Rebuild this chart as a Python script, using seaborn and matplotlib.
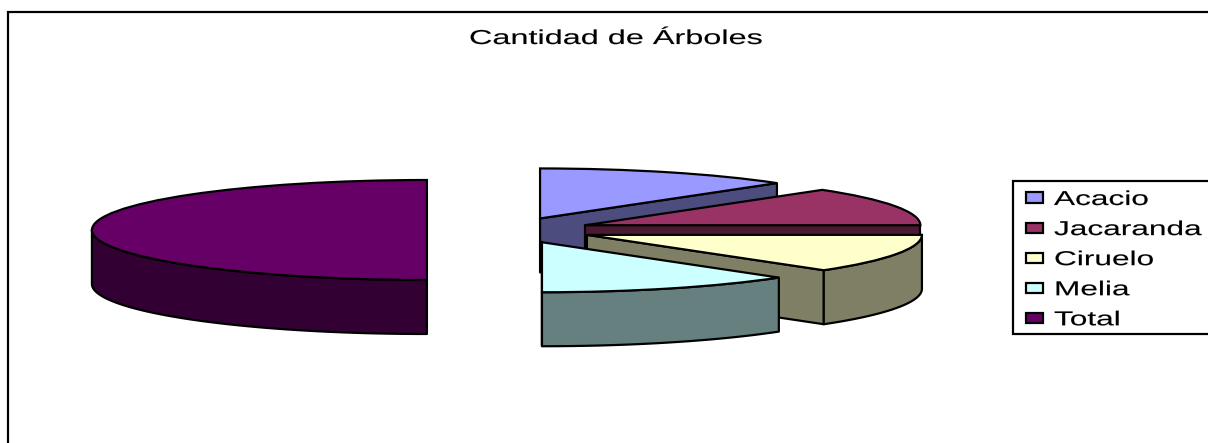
import numpy as np
import seaborn as sns
import matplotlib
matplotlib.use('Agg')
import matplotlib.pyplot as plt
import matplotlib.patheffects as pe
from matplotlib.patches import Polygon, Rectangle
from matplotlib.transforms import Affine2D

sns.set_theme(style='white')
plt.rcParams['font.family'] = ['Liberation Sans', 'DejaVu Sans']

title = 'Cantidad de Árboles'
species = ['Acacio', 'Jacaranda', 'Ciruelo', 'Melia', 'Total']
counts = [10, 10, 10, 10, 40]
explode = [0.25, 0.25, 0.255, 0.265, 0.242]
top_colors = ['#9999FF', '#993366', '#FFFFCC', '#CCFFFF', '#660066']
side_colors = ['#4C4C7F', '#4C1933', '#7F7F66', '#667F7F', '#330033']

W, H = 1208, 443
DPI = 100
LW = 2.2 * 72 / DPI
# the picture is a flattened pie: pixels per pie radius, and slab thickness
RX, RY = 335, 50
CX, CY = 508, 230
DEPTH = 54 / RY


class Stretch(pe.AbstractPathEffect):
    """Widen text about its own start, the reference text is wider than any font."""
    def __init__(self, sx):
        super().__init__()
        self.sx = sx

    def draw_path(self, renderer, gc, tpath, affine, rgbFace=None):
        gc.set_linewidth(0.1)
        renderer.draw_path(gc, tpath, Affine2D().scale(self.sx, 1) + affine, rgbFace)


def px_rect(x0, y0, x1, y1):
    return Rectangle((x0 / W, 1 - y1 / H), (x1 - x0) / W, (y1 - y0) / H,
                     transform=fig.transFigure, facecolor='white', edgecolor='black',
                     linewidth=LW, clip_on=True, zorder=-1)


def draw_sides(ax, wedge, color, zorder):
    (x, y) = wedge.center
    # pie hands out negative angles when it runs clockwise
    t1, t2 = wedge.theta1, wedge.theta2
    if t1 < 0:
        t1, t2 = t1 + 360, t2 + 360
    faces = []
    # flat cut faces that look towards the viewer
    for t, sign in ((t1, 1), (t2, -1)):
        c = np.cos(np.radians(t))
        if sign * c > 1e-9:
            ex, ey = x + c, y + np.sin(np.radians(t))
            faces.append([(x, y), (ex, ey), (ex, ey - DEPTH), (x, y - DEPTH)])
    # only the lower half of the rim can be seen
    lo, hi = max(t1, 180), min(t2, 360)
    if hi > lo:
        a = np.radians(np.linspace(lo, hi, 80))
        rim_x, rim_y = x + np.cos(a), y + np.sin(a)
        faces.append(list(zip(rim_x, rim_y)) + list(zip(rim_x[::-1], rim_y[::-1] - DEPTH)))
    for face in faces:
        ax.add_patch(Polygon(face, closed=True, facecolor=color, edgecolor='black',
                             linewidth=LW, joinstyle='round', zorder=zorder))


fig = plt.figure(figsize=(W / DPI, H / DPI), dpi=DPI, facecolor='white')
fig.add_artist(px_rect(8, 12, W + 10, H + 10))

ax = fig.add_axes([0, 0, 1, 1])
ax.patch.set_alpha(0)
wedges, _ = ax.pie(counts, explode=explode, colors=sns.color_palette(top_colors),
                   startangle=90, counterclock=False, radius=1, labeldistance=None,
                   wedgeprops={'edgecolor': 'black', 'linewidth': LW})
ax.set_aspect('auto')
ax.set_xlim(-CX / RX, (W - CX) / RX)
ax.set_ylim(-(H - CY) / RY, CY / RY)
ax.axis('off')

for i, (wedge, side) in enumerate(zip(wedges, side_colors)):
    draw_sides(ax, wedge, side, 2 + 2 * i)
    wedge.set_zorder(3 + 2 * i)

title_text = fig.text(469 / W, 1 - 44 / H, title, fontsize=14.5, color='black', ha='left', va='baseline')
title_text.set_path_effects([Stretch(1.61)])

fig.add_artist(px_rect(1013, 181, W + 10, 334))
legend = fig.legend(wedges, species, loc='upper left', frameon=False, fontsize=14.5,
                    bbox_to_anchor=(1026 / W, 1 - 190 / H), borderpad=0, borderaxespad=0,
                    handlelength=0.84, handleheight=0.44, handletextpad=0.55, labelspacing=0.55)
for t in legend.get_texts():
    t.set_path_effects([Stretch(1.57)])
    t.set_color('black')

fig.savefig('out.png', dpi=DPI)
